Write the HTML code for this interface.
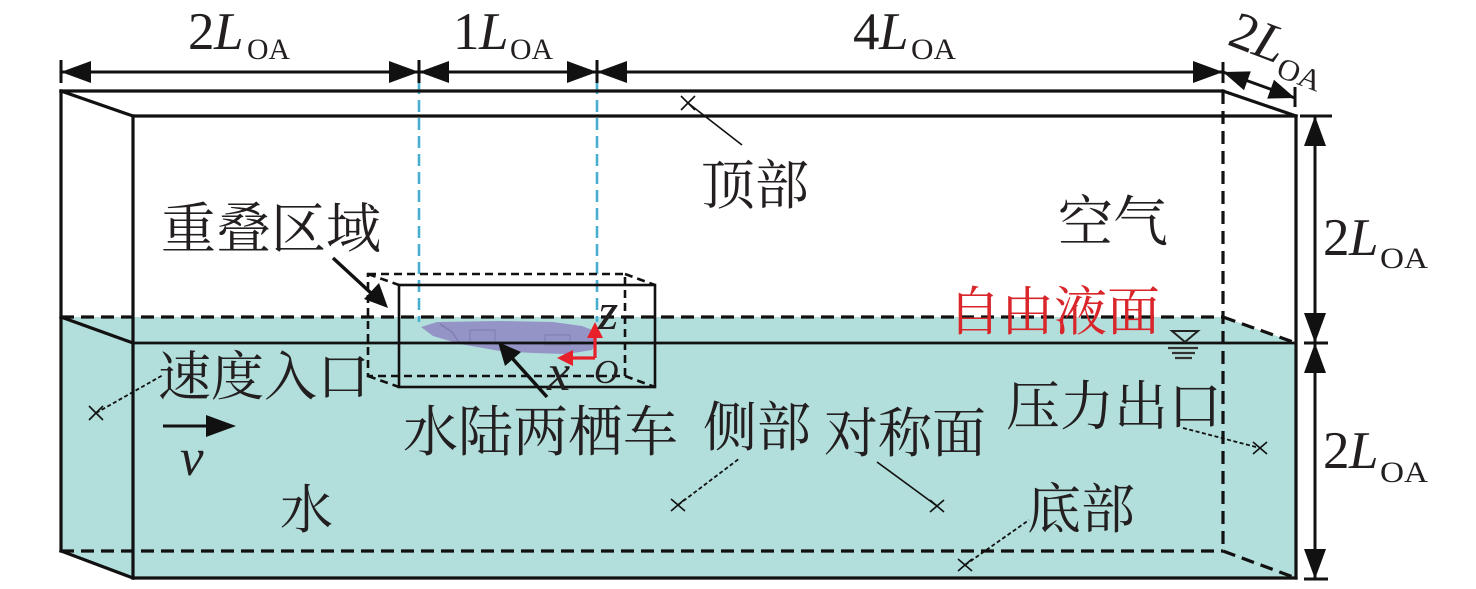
<!DOCTYPE html>
<html>
<head>
<meta charset="utf-8">
<style>
html,body{margin:0;padding:0;background:#fff;}
svg{display:block;}
.cjk{font-family:"Liberation Serif","Noto Serif CJK SC","Noto Sans CJK SC",serif;fill:#231f20;}
.lat{font-family:"Liberation Serif",serif;fill:#231f20;}
.it{font-style:italic;}
</style>
</head>
<body>
<svg width="1476" height="589" viewBox="0 0 1476 589" xmlns="http://www.w3.org/2000/svg">
<rect x="0" y="0" width="1476" height="589" fill="#fff"/>

<!-- water fill -->
<polygon points="61,317 1223,317 1296,343 1296,578 133,578 61,551" fill="#b2dfdb"/>

<!-- vehicle -->
<polygon points="421,327 437,322 500,321 553,322 582,326 595,331 597,340 592,350 567,354 533,353 500,351 460,344 433,336" fill="#9494c6"/>
<polyline points="440,324 452,332 460,344" fill="none" stroke="#7f7fb2" stroke-width="1.5"/>
<rect x="470" y="330" width="25" height="12" fill="none" stroke="#8282b4" stroke-width="1.2"/>
<rect x="545" y="335" width="25" height="10" fill="none" stroke="#8282b4" stroke-width="1.2"/>

<!-- blue dashed verticals -->
<g stroke="#4aaed0" stroke-width="2.6" stroke-dasharray="12,6" fill="none">
<line x1="419" y1="82" x2="419" y2="322"/>
<line x1="597" y1="82" x2="597" y2="322"/>
</g>

<!-- main box solid lines -->
<g stroke="#111" stroke-width="3.2" fill="none" stroke-linecap="square">
<line x1="61" y1="91" x2="1223" y2="91"/>
<line x1="61" y1="91" x2="61" y2="551"/>
<line x1="61" y1="91" x2="133" y2="116"/>
<line x1="1223" y1="91" x2="1296" y2="116"/>
<line x1="133" y1="116" x2="1296" y2="116"/>
<line x1="133" y1="116" x2="133" y2="578"/>
<line x1="1296" y1="116" x2="1296" y2="578"/>
<line x1="133" y1="578" x2="1296" y2="578"/>
<line x1="61" y1="317" x2="133" y2="343"/>
<line x1="61" y1="551" x2="133" y2="578"/>
</g>
<line x1="133" y1="343" x2="1296" y2="343" stroke="#111" stroke-width="2.8"/>

<!-- main box dashed lines -->
<g stroke="#111" stroke-width="3.2" fill="none" stroke-dasharray="13,7">
<line x1="1223" y1="91" x2="1223" y2="551"/>
<line x1="61" y1="317" x2="1223" y2="317"/>
<line x1="61" y1="551" x2="1223" y2="551"/>
<line x1="1223" y1="317" x2="1296" y2="343"/>
<line x1="1223" y1="551" x2="1296" y2="578"/>
</g>

<!-- overlap region -->
<g stroke="#111" stroke-width="2.6" fill="none" stroke-dasharray="8,5">
<rect x="368" y="274" width="257" height="102"/>
<line x1="368" y1="274" x2="399" y2="285"/>
<line x1="625" y1="274" x2="655" y2="285"/>
<line x1="625" y1="376" x2="655" y2="387"/>
<line x1="368" y1="376" x2="399" y2="387"/>
</g>
<rect x="399" y="285" width="256" height="102" stroke="#111" stroke-width="2.6" fill="none"/>

<!-- red axes -->
<g stroke="#e8202a" stroke-width="3.2" fill="none">
<line x1="595" y1="358" x2="595" y2="336"/>
<line x1="595" y1="358" x2="571" y2="358"/>
</g>
<polygon points="595,322 587,338 603,338" fill="#e8202a"/>
<polygon points="557,358 573,350 573,366" fill="#e8202a"/>

<!-- black arrows -->
<line x1="547" y1="397" x2="512" y2="358" stroke="#111" stroke-width="3.5"/>
<polygon points="498,342 521,352 505,366" fill="#111"/>
<line x1="333" y1="258" x2="372" y2="294" stroke="#111" stroke-width="3.5"/>
<polygon points="388,308 364,299 379,283" fill="#111"/>

<!-- velocity arrow -->
<line x1="163" y1="426" x2="210" y2="426" stroke="#111" stroke-width="3"/>
<polygon points="236,426 206,415 206,437" fill="#111"/>

<!-- water level symbol -->
<polygon points="1172,331 1198,331 1185,342" fill="none" stroke="#222" stroke-width="2"/>
<g stroke="#333" stroke-width="2.2">
<line x1="1168" y1="348" x2="1198" y2="348"/>
<line x1="1172" y1="353" x2="1195" y2="353"/>
<line x1="1175" y1="358" x2="1192" y2="358"/>
</g>

<!-- connectors and x marks -->
<g stroke="#111" stroke-width="1.6" fill="none">
<line x1="688" y1="103" x2="742" y2="145"/>
<line x1="681" y1="96" x2="695" y2="110"/><line x1="695" y1="96" x2="681" y2="110"/>
<line x1="877" y1="462" x2="937" y2="506"/>
<line x1="930" y1="500" x2="944" y2="512"/><line x1="944" y1="500" x2="930" y2="512"/>
<line x1="89" y1="406" x2="103" y2="420"/><line x1="103" y1="406" x2="89" y2="420"/>
<line x1="671" y1="499" x2="685" y2="511"/><line x1="685" y1="499" x2="671" y2="511"/>
<line x1="958" y1="559" x2="972" y2="571"/><line x1="972" y1="559" x2="958" y2="571"/>
<line x1="1253" y1="442" x2="1267" y2="454"/><line x1="1267" y1="442" x2="1253" y2="454"/>
</g>
<g stroke="#111" stroke-width="1.8" fill="none" stroke-dasharray="4,2.5">
<line x1="96" y1="413" x2="163" y2="375"/>
<line x1="678" y1="505" x2="740" y2="458"/>
<line x1="965" y1="565" x2="1029" y2="520"/>
<line x1="1183" y1="428" x2="1260" y2="448"/>
</g>

<!-- top dimension -->
<line x1="61" y1="72" x2="1223" y2="72" stroke="#111" stroke-width="3"/>
<g stroke="#111" stroke-width="3">
<line x1="61" y1="60" x2="61" y2="83"/>
<line x1="419" y1="60" x2="419" y2="83"/>
<line x1="597" y1="60" x2="597" y2="83"/>
<line x1="1223" y1="62" x2="1223" y2="83"/>
<line x1="1223" y1="72" x2="1295" y2="98"/>
<line x1="1295" y1="87" x2="1295" y2="107"/>
</g>
<g fill="#111">
<polygon points="61,72 91,61 91,83"/>
<polygon points="419,72 389,61 389,83"/>
<polygon points="419,72 449,61 449,83"/>
<polygon points="597,72 567,61 567,83"/>
<polygon points="597,72 627,61 627,83"/>
<polygon points="1223,72 1193,61 1193,83"/>
<polygon points="1223,72 1244,90.2 1250.8,71.4"/>
<polygon points="1295,98 1267.2,98.6 1274,79.8"/>
</g>

<!-- right dimension -->
<line x1="1315" y1="116" x2="1315" y2="579" stroke="#111" stroke-width="3"/>
<g stroke="#111" stroke-width="3">
<line x1="1300" y1="116" x2="1332" y2="116"/>
<line x1="1304" y1="343" x2="1328" y2="343"/>
<line x1="1304" y1="579" x2="1328" y2="579"/>
</g>
<g fill="#111">
<polygon points="1315,116 1304,146 1326,146"/>
<polygon points="1315,343 1304,313 1326,313"/>
<polygon points="1315,343 1304,373 1326,373"/>
<polygon points="1315,579 1304,549 1326,549"/>
</g>

<!-- dimension labels -->
<g class="lat">
<text x="188" y="49" font-size="53">2</text>
<text x="214" y="49" font-size="53" class="it">L</text>
<text x="247" y="59" font-size="30" textLength="43" lengthAdjust="spacingAndGlyphs">OA</text>

<text x="453" y="49" font-size="53">1</text>
<text x="479" y="49" font-size="53" class="it">L</text>
<text x="510" y="59" font-size="30" textLength="43" lengthAdjust="spacingAndGlyphs">OA</text>

<text x="853" y="49" font-size="53">4</text>
<text x="879" y="49" font-size="53" class="it">L</text>
<text x="911" y="59" font-size="30" textLength="45" lengthAdjust="spacingAndGlyphs">OA</text>

<g transform="translate(1226,44) rotate(21)">
<text x="0" y="0" font-size="53">2</text>
<text x="26" y="0" font-size="53" class="it">L</text>
<text x="57" y="12" font-size="30" textLength="45" lengthAdjust="spacingAndGlyphs">OA</text>
</g>

<text x="1323" y="255" font-size="53">2</text>
<text x="1349" y="255" font-size="53" class="it">L</text>
<text x="1380" y="268" font-size="30" textLength="48" lengthAdjust="spacingAndGlyphs">OA</text>

<text x="1323" y="468" font-size="53">2</text>
<text x="1349" y="468" font-size="53" class="it">L</text>
<text x="1380" y="482" font-size="30" textLength="48" lengthAdjust="spacingAndGlyphs">OA</text>

<text x="180" y="475" font-size="53" class="it">v</text>
<text x="598" y="329" font-size="52" class="it">z</text>
<text x="547" y="390" font-size="52" class="it">x</text>
<text x="594" y="383" font-size="34" class="it">O</text>
</g>

<!-- CJK labels -->
<g class="cjk">
<text x="161" y="248" font-size="55">重叠区域</text>
<text x="701" y="204" font-size="54">顶部</text>
<text x="1058" y="241" font-size="55">空气</text>
<text x="948" y="330" font-size="53" style="fill:#d9262b">自由液面</text>
<text x="158" y="395" font-size="53">速度入口</text>
<text x="280" y="528" font-size="53">水</text>
<text x="403" y="451" font-size="55">水陆两栖车</text>
<text x="703" y="446" font-size="54">侧部</text>
<text x="824" y="452" font-size="54">对称面</text>
<text x="1006" y="425" font-size="54">压力出口</text>
<text x="1027" y="528" font-size="54">底部</text>
</g>
</svg>
</body>
</html>
